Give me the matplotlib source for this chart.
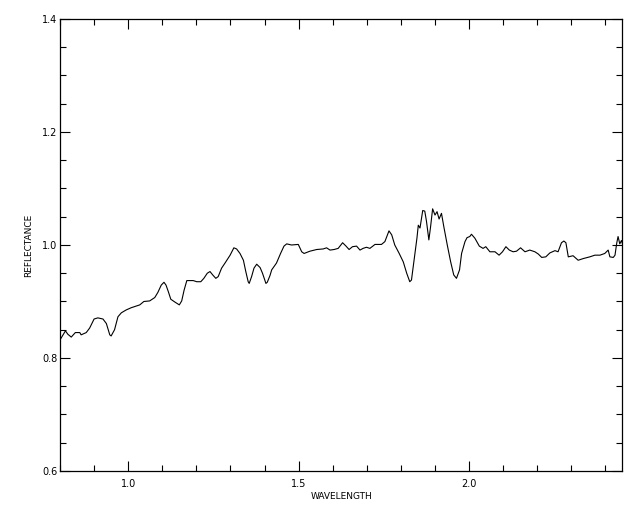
import matplotlib
matplotlib.use("Agg")
import matplotlib.pyplot as plt
from matplotlib.ticker import MultipleLocator

# spectrum
wavelength = [0.800, 0.816, 0.823, 0.833, 0.845, 0.858, 0.862, 0.877, 0.887, 0.900,
              0.911, 0.926, 0.936, 0.946, 0.950, 0.960, 0.970, 0.980, 0.994, 1.009,
              1.024, 1.034, 1.046, 1.063, 1.078, 1.087, 1.097, 1.105, 1.111, 1.118,
              1.125, 1.137, 1.150, 1.157, 1.164, 1.172, 1.191, 1.201, 1.213, 1.222,
              1.232, 1.240, 1.248, 1.257, 1.264, 1.274, 1.284, 1.299, 1.310, 1.318,
              1.328, 1.338, 1.345, 1.352, 1.355, 1.362, 1.369, 1.377, 1.387, 1.394,
              1.404, 1.408, 1.416, 1.421, 1.435, 1.447, 1.457, 1.465, 1.479, 1.499,
              1.509, 1.516, 1.533, 1.553, 1.572, 1.582, 1.592, 1.604, 1.616, 1.629,
              1.639, 1.648, 1.658, 1.670, 1.680, 1.689, 1.699, 1.709, 1.724, 1.743,
              1.753, 1.765, 1.773, 1.782, 1.795, 1.807, 1.817, 1.826, 1.831, 1.838,
              1.847, 1.851, 1.856, 1.864, 1.870, 1.875, 1.882, 1.887, 1.893, 1.900,
              1.906, 1.912, 1.919, 1.926, 1.936, 1.946, 1.955, 1.963, 1.972, 1.978,
              1.988, 1.994, 2.002, 2.007, 2.017, 2.030, 2.041, 2.049, 2.061, 2.076,
              2.088, 2.098, 2.108, 2.118, 2.129, 2.139, 2.151, 2.164, 2.178, 2.193,
              2.203, 2.213, 2.225, 2.237, 2.252, 2.261, 2.271, 2.278, 2.284, 2.291,
              2.305, 2.320, 2.335, 2.354, 2.369, 2.384, 2.398, 2.403, 2.408, 2.413,
              2.423, 2.428, 2.433, 2.437, 2.442, 2.447, 2.450]
reflectance = [0.832, 0.848, 0.842, 0.837, 0.845, 0.845, 0.841, 0.845, 0.853, 0.869,
               0.871, 0.869, 0.861, 0.841, 0.839, 0.850, 0.873, 0.880, 0.885, 0.889,
               0.892, 0.894, 0.900, 0.901, 0.907, 0.916, 0.929, 0.934, 0.929, 0.917,
               0.904, 0.899, 0.894, 0.901, 0.920, 0.937, 0.937, 0.935, 0.935, 0.941,
               0.950, 0.953, 0.947, 0.941, 0.944, 0.959, 0.968, 0.982, 0.995, 0.993,
               0.985, 0.973, 0.953, 0.935, 0.932, 0.944, 0.959, 0.966, 0.960, 0.950,
               0.932, 0.934, 0.946, 0.956, 0.968, 0.985, 0.998, 1.002, 1.000, 1.001,
               0.988, 0.985, 0.989, 0.992, 0.993, 0.995, 0.991, 0.992, 0.994, 1.004,
               0.998, 0.992, 0.997, 0.998, 0.991, 0.994, 0.996, 0.994, 1.001, 1.001,
               1.006, 1.025, 1.018, 1.000, 0.985, 0.970, 0.950, 0.935, 0.938, 0.970,
               1.012, 1.035, 1.030, 1.061, 1.060, 1.042, 1.009, 1.032, 1.064, 1.053,
               1.059, 1.046, 1.056, 1.032, 1.000, 0.970, 0.947, 0.941, 0.956, 0.985,
               1.006, 1.013, 1.015, 1.019, 1.012, 0.998, 0.994, 0.997, 0.988, 0.988,
               0.982, 0.988, 0.997, 0.991, 0.988, 0.989, 0.995, 0.988, 0.991, 0.988,
               0.984, 0.978, 0.979, 0.986, 0.990, 0.988, 1.004, 1.007, 1.004, 0.979,
               0.981, 0.973, 0.976, 0.979, 0.982, 0.982, 0.985, 0.988, 0.991, 0.979,
               0.978, 0.982, 1.003, 1.015, 1.002, 1.008, 1.002]

fig = plt.figure(figsize=(6.4, 5.12), dpi=100)
ax = fig.add_axes([0.09375, 0.0801, 0.8789, 0.8828])

ax.plot(wavelength, reflectance, color="black", linewidth=0.8)

ax.set_xlim(0.8, 2.45)
ax.set_ylim(0.6, 1.4)
ax.xaxis.set_major_locator(MultipleLocator(0.5))
ax.xaxis.set_minor_locator(MultipleLocator(0.1))
ax.yaxis.set_major_locator(MultipleLocator(0.2))
ax.yaxis.set_minor_locator(MultipleLocator(0.05))
ax.xaxis.set_major_formatter(plt.FormatStrFormatter("%.1f"))
ax.yaxis.set_major_formatter(plt.FormatStrFormatter("%.1f"))

ax.tick_params(which="both", direction="in", top=True, right=True, width=0.8, labelsize=7)
ax.tick_params(which="major", length=7)
ax.tick_params(which="minor", length=4)
ax.tick_params(axis="x", which="major", pad=6)
ax.tick_params(axis="y", which="major", pad=2)
for s in ax.spines.values():
    s.set_linewidth(0.9)

ax.set_xlabel("WAVELENGTH", fontsize=6.5, labelpad=2)
ax.set_ylabel("REFLECTANCE", fontsize=6.5, labelpad=6)

fig.savefig("out.png", dpi=100)
